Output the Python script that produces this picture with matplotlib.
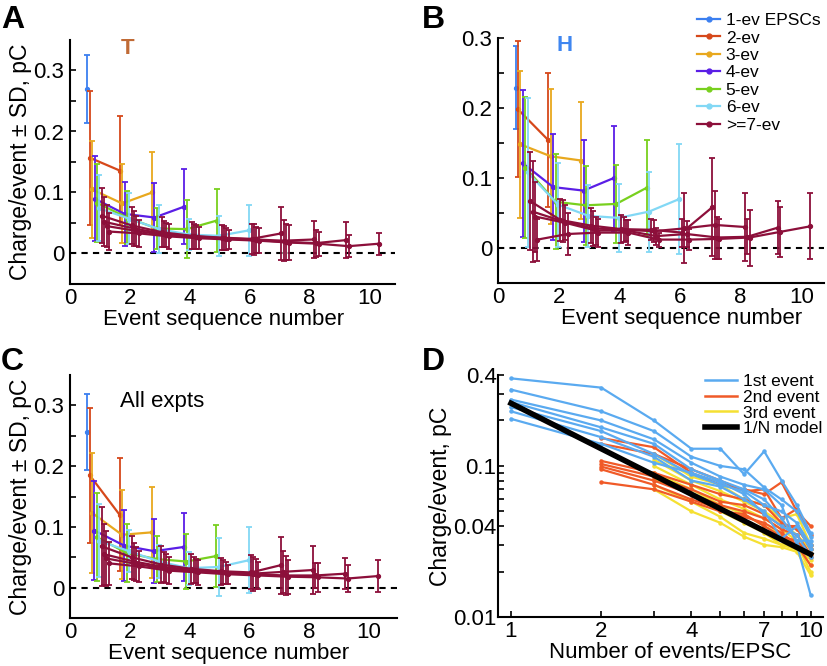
"""
Charge per event vs event sequence number (A-C) and vs events/EPSC (D).
"""
import matplotlib
matplotlib.use("Agg")
import matplotlib.pyplot as plt
from matplotlib.lines import Line2D
from matplotlib.ticker import FixedLocator, NullFormatter

plt.rcParams["font.family"] = ["Liberation Sans", "DejaVu Sans"]

SERIES_LABELS = ["1-ev EPSCs", "2-ev", "3-ev", "4-ev", "5-ev", "6-ev", ">=7-ev"]
SERIES_COLORS = ["#3b7ff0", "#d6481a", "#e8a81e", "#5a1ee6", "#78d01e", "#82d8f5", "#8c0f3a"]

# mean charge/event for N-event EPSCs (N = 1..10), one list per N
T_MEAN = [
    [0.270],
    [0.157, 0.136],
    [0.105, 0.082, 0.100],
    [0.090, 0.065, 0.059, 0.077],
    [0.083, 0.059, 0.041, 0.040, 0.054],
    [0.074, 0.057, 0.040, 0.031, 0.029, 0.038],
    [0.062, 0.046, 0.035, 0.029, 0.026, 0.024, 0.033],
    [0.052, 0.041, 0.032, 0.028, 0.025, 0.023, 0.021, 0.023],
    [0.045, 0.037, 0.030, 0.027, 0.024, 0.022, 0.019, 0.017, 0.022],
    [0.036, 0.033, 0.028, 0.025, 0.023, 0.021, 0.018, 0.016, 0.012, 0.016],
]
T_SD = [
    [0.056],
    [0.110, 0.089],
    [0.080, 0.065, 0.066],
    [0.070, 0.052, 0.056, 0.061],
    [0.064, 0.043, 0.034, 0.047, 0.052],
    [0.054, 0.042, 0.040, 0.026, 0.033, 0.042],
    [0.045, 0.030, 0.025, 0.022, 0.020, 0.025, 0.043],
    [0.040, 0.028, 0.022, 0.020, 0.020, 0.025, 0.034, 0.030],
    [0.035, 0.025, 0.020, 0.020, 0.018, 0.022, 0.030, 0.022, 0.030],
    [0.030, 0.022, 0.020, 0.018, 0.016, 0.020, 0.028, 0.020, 0.018, 0.018],
]

H_MEAN = [
    [0.229],
    [0.198, 0.154],
    [0.148, 0.131, 0.125],
    [0.121, 0.087, 0.082, 0.100],
    [0.115, 0.066, 0.061, 0.063, 0.086],
    [0.108, 0.062, 0.046, 0.043, 0.052, 0.070],
    [0.067, 0.040, 0.032, 0.027, 0.026, 0.022, 0.058],
    [0.052, 0.038, 0.028, 0.026, 0.024, 0.028, 0.033, 0.030],
    [0.045, 0.036, 0.025, 0.025, 0.017, 0.020, 0.015, 0.016, 0.029],
    [0.012, 0.020, 0.022, 0.022, 0.012, 0.012, 0.013, 0.015, 0.023, 0.031],
]
H_SD = [
    [0.059],
    [0.097, 0.096],
    [0.105, 0.096, 0.083],
    [0.105, 0.076, 0.073, 0.075],
    [0.100, 0.068, 0.056, 0.056, 0.069],
    [0.107, 0.060, 0.044, 0.049, 0.057, 0.078],
    [0.070, 0.030, 0.025, 0.020, 0.015, 0.020, 0.070],
    [0.072, 0.030, 0.025, 0.018, 0.016, 0.050, 0.048, 0.048],
    [0.050, 0.025, 0.020, 0.015, 0.012, 0.018, 0.030, 0.025, 0.038],
    [0.030, 0.030, 0.020, 0.018, 0.010, 0.015, 0.028, 0.040, 0.036, 0.047],
]

ALL_MEAN = [
    [0.256],
    [0.185, 0.120],
    [0.123, 0.087, 0.091],
    [0.094, 0.069, 0.060, 0.067],
    [0.083, 0.057, 0.047, 0.043, 0.052],
    [0.077, 0.060, 0.043, 0.032, 0.034, 0.045],
    [0.068, 0.050, 0.038, 0.031, 0.027, 0.025, 0.037],
    [0.055, 0.043, 0.034, 0.029, 0.026, 0.023, 0.026, 0.029],
    [0.048, 0.039, 0.031, 0.027, 0.024, 0.022, 0.020, 0.020, 0.023],
    [0.040, 0.035, 0.028, 0.025, 0.022, 0.020, 0.018, 0.017, 0.015, 0.019],
]
ALL_SD = [
    [0.062],
    [0.111, 0.093],
    [0.099, 0.073, 0.075],
    [0.081, 0.058, 0.053, 0.056],
    [0.072, 0.047, 0.038, 0.046, 0.051],
    [0.060, 0.035, 0.027, 0.027, 0.047, 0.054],
    [0.065, 0.035, 0.030, 0.025, 0.022, 0.028, 0.047],
    [0.050, 0.030, 0.025, 0.022, 0.020, 0.028, 0.035, 0.039],
    [0.045, 0.028, 0.024, 0.020, 0.018, 0.025, 0.032, 0.021, 0.026],
    [0.035, 0.025, 0.022, 0.020, 0.016, 0.022, 0.028, 0.024, 0.022, 0.026],
]

# panel D: charge of 1st / 2nd / 3rd event vs number of events in the EPSC
N_EVENTS = [1, 2, 3, 4, 5, 6, 7, 8, 9, 10]
FIRST_EVENT = [
    [0.380, 0.330, 0.200, 0.130, 0.130, 0.088, 0.125, 0.080, 0.055, 0.036],
    [0.320, 0.230, 0.170, 0.115, 0.100, 0.095, 0.072, 0.060, 0.050, 0.034],
    [0.275, 0.200, 0.150, 0.105, 0.085, 0.075, 0.070, 0.055, 0.030, 0.014],
    [0.265, 0.180, 0.140, 0.095, 0.080, 0.070, 0.060, 0.045, 0.032, 0.032],
    [0.245, 0.170, 0.120, 0.088, 0.075, 0.068, 0.055, 0.050, 0.042, 0.030],
    [0.230, 0.155, 0.115, 0.080, 0.073, 0.060, 0.050, 0.033, 0.040, 0.028],
    [0.205, 0.140, 0.105, 0.090, 0.078, 0.065, 0.048, 0.040, 0.035, 0.025],
]
SECOND_EVENT = [
    [0.153, 0.133, 0.090, 0.075, 0.070, 0.065, 0.078, 0.050, 0.040],
    [0.140, 0.120, 0.095, 0.080, 0.068, 0.070, 0.045, 0.052, 0.035],
    [0.108, 0.090, 0.075, 0.065, 0.060, 0.055, 0.042, 0.038, 0.030],
    [0.103, 0.085, 0.070, 0.058, 0.055, 0.048, 0.040, 0.040, 0.028],
    [0.099, 0.080, 0.065, 0.055, 0.050, 0.045, 0.038, 0.035, 0.026],
    [0.095, 0.075, 0.060, 0.052, 0.046, 0.042, 0.036, 0.030, 0.022],
    [0.078, 0.070, 0.058, 0.050, 0.048, 0.040, 0.034, 0.032, 0.025],
]
THIRD_EVENT = [
    [0.120, 0.085, 0.075, 0.060, 0.055, 0.045, 0.048, 0.030],
    [0.110, 0.080, 0.068, 0.058, 0.050, 0.042, 0.035, 0.028],
    [0.100, 0.075, 0.060, 0.052, 0.045, 0.038, 0.032, 0.026],
    [0.090, 0.070, 0.055, 0.048, 0.040, 0.035, 0.030, 0.022],
    [0.082, 0.065, 0.050, 0.042, 0.036, 0.030, 0.030, 0.020],
    [0.075, 0.058, 0.046, 0.036, 0.033, 0.030, 0.028, 0.024],
    [0.070, 0.050, 0.042, 0.034, 0.030, 0.029, 0.027, 0.019],
]
MODEL_Q1 = 0.26  # 1/N model: Q1 / N

FS = 16


def seq_panel(ax, means, sds, ymax, xmax):
    for i, (m, s) in enumerate(zip(means, sds)):
        n = i + 1
        col = SERIES_COLORS[min(i, 6)]
        off = 0.08 * n - 0.5           # horizontal jitter per series
        xs = [k + 1 + off for k in range(n)]
        ax.errorbar(xs, m, yerr=s, color=col, lw=1.6, elinewidth=1.3,
                    capsize=2.2, capthick=1.3, marker="o", ms=2.8, zorder=2 + i)
    ax.axhline(0, color="black", ls=(0, (3, 2.5)), lw=1.5, zorder=1)
    ax.set_xlim(0, xmax)
    ax.set_ylim(-0.05, ymax)
    ax.set_xticks([0, 2, 4, 6, 8, 10])
    ax.set_yticks([0, 0.1, 0.2, 0.3])
    ax.set_yticklabels(["0", "0.1", "0.2", "0.3"])
    ax.yaxis.set_minor_locator(FixedLocator([0.05, 0.15, 0.25]))
    ax.tick_params(axis="y", which="both", direction="in", length=4, width=1.2,
                   labelsize=FS, pad=4)
    ax.tick_params(axis="x", length=0, labelsize=FS, pad=3)
    for side in ("top", "right"):
        ax.spines[side].set_visible(False)
    for side in ("left", "bottom"):
        ax.spines[side].set_linewidth(1.5)
    ax.set_xlabel("Event sequence number", fontsize=FS, labelpad=0)


fig = plt.figure(figsize=(8.27, 6.66), dpi=100)
W, H = 827, 666


def box(l, t, r, b):
    return [l / W, 1 - b / H, (r - l) / W, (b - t) / H]


axA = fig.add_axes(box(70, 40, 395, 284))
axB = fig.add_axes(box(498, 38, 824, 283))
axC = fig.add_axes(box(70, 375, 397, 618))
axD = fig.add_axes(box(498, 375, 823, 617))

seq_panel(axA, T_MEAN, T_SD, 0.35, 10.85)
seq_panel(axB, H_MEAN, H_SD, 0.30, 10.75)
seq_panel(axC, ALL_MEAN, ALL_SD, 0.35, 10.95)
axA.set_ylabel("Charge/event \u00b1 SD, pC", fontsize=FS + 0.5, labelpad=1)
axC.set_ylabel("Charge/event \u00b1 SD, pC", fontsize=FS + 0.5, labelpad=1)

# x-label centres as placed in the original layout (vertical stays automatic)
for ax, fx in [(axA, 0.472), (axB, 0.564), (axC, 0.486)]:
    ax.xaxis.label.set_x(fx)

axA.text(1.93, 0.336, "T", color="#c06a35", fontsize=FS, fontweight="bold",
         ha="center", va="center", zorder=20, clip_on=False)
axB.text(2.2, 0.289, "H", color="#3f86f0", fontsize=FS, fontweight="bold",
         ha="center", va="center", zorder=20, clip_on=False)
axC.text(1.68, 0.306, "All expts", color="black", fontsize=FS,
         ha="left", va="center")

handles = [Line2D([0], [0], color=c, lw=1.6, marker="o", ms=3.5)
           for c in SERIES_COLORS]
fig.legend(handles, SERIES_LABELS, loc="upper left",
           bbox_to_anchor=(697 / W, 1 - 13 / H), frameon=False, fontsize=12.5,
           handlelength=1.35, handletextpad=0.3, labelspacing=0.13,
           borderpad=0, borderaxespad=0)

# panel D
for row in THIRD_EVENT:
    axD.plot(N_EVENTS[2:], row, color="#f5e032", lw=1.6, marker="o", ms=2.2, zorder=2)
for row in SECOND_EVENT:
    axD.plot(N_EVENTS[1:], row, color="#f05a28", lw=1.6, marker="o", ms=2.2, zorder=3)
for row in FIRST_EVENT:
    axD.plot(N_EVENTS, row, color="#5aaaf0", lw=1.6, marker="o", ms=2.2, zorder=4)
axD.plot(N_EVENTS, [MODEL_Q1 / n for n in N_EVENTS], color="black", lw=4, zorder=5)
axD.set_xscale("log")
axD.set_yscale("log")
axD.set_xlim(0.905, 11)
axD.set_ylim(0.01, 0.4)
axD.xaxis.set_major_locator(FixedLocator([1, 2, 4, 7, 10]))
axD.xaxis.set_minor_locator(FixedLocator([3, 5, 6, 8, 9]))
axD.set_xticklabels(["1", "2", "4", "7", "10"])
axD.xaxis.set_minor_formatter(NullFormatter())
axD.yaxis.set_major_locator(FixedLocator([0.01, 0.04, 0.1, 0.4]))
axD.yaxis.set_minor_locator(FixedLocator([0.02, 0.03, 0.05, 0.06, 0.07, 0.08,
                                          0.09, 0.2, 0.3]))
axD.set_yticklabels(["0.01", "0.04", "0.1", "0.4"])
axD.yaxis.set_minor_formatter(NullFormatter())
axD.tick_params(which="both", direction="in", length=4, width=1.2, labelsize=FS)
axD.tick_params(axis="y", which="both", pad=1)
axD.tick_params(axis="x", which="both", pad=3)
for side in ("top", "right"):
    axD.spines[side].set_visible(False)
for side in ("left", "bottom"):
    axD.spines[side].set_linewidth(1.5)
axD.set_xlabel("Number of events/EPSC", fontsize=FS, labelpad=0)
axD.xaxis.label.set_x(0.529)
axD.set_ylabel("Charge/event, pC", fontsize=FS + 0.5, labelpad=1)

d_handles = [Line2D([0], [0], color="#5aaaf0", lw=1.8),
             Line2D([0], [0], color="#f05a28", lw=1.8),
             Line2D([0], [0], color="#f5e032", lw=1.8),
             Line2D([0], [0], color="black", lw=4)]
fig.legend(d_handles, ["1st event", "2nd event", "3rd event", "1/N model"],
           loc="upper left", bbox_to_anchor=(705 / W, 1 - 374 / H), frameon=False,
           fontsize=12.5, handlelength=1.85, handletextpad=0.35, labelspacing=0.03,
           borderpad=0, borderaxespad=0)

for letter, x, y in [("A", 1, 5), ("B", 422, 5), ("C", 1, 347), ("D", 422, 347)]:
    fig.text(x / W, 1 - y / H, letter, fontsize=23, fontweight="bold",
             ha="left", va="top")

fig.savefig("out.png", dpi=100)
